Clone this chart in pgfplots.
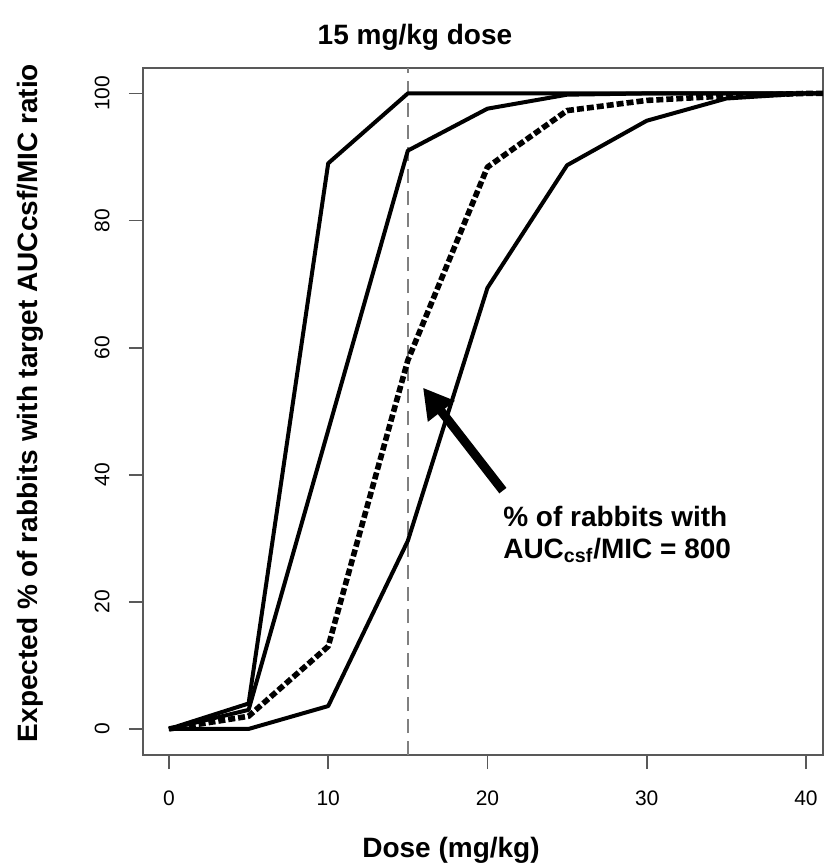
\documentclass[border=0pt]{standalone}
\usepackage{fontspec}
\setmainfont{Liberation Sans}
\usepackage{pgfplots}
\pgfplotsset{compat=1.18}
\usetikzlibrary{arrows.meta}

\begin{document}
\begin{tikzpicture}
\begin{axis}[
  at={(0,0)}, anchor=south west,
  scale only axis, width=340pt, height=343.5pt,
  xmin=-1.63, xmax=41.07, ymin=-4.1, ymax=104,
  xtick={0,10,20,30,40}, ytick={0,20,40,60,80,100},
  xtick pos=lower, ytick pos=left,
  tick align=outside, major tick length=7pt,
  axis line style={black!65, line width=0.9pt},
  tick style={black!65, line width=0.9pt},
  /pgf/number format/assume math mode=true,
  xticklabel style={font=\fontsize{10.5}{12}\selectfont, anchor=north, inner sep=0pt, yshift=-10.5pt},
  yticklabel style={font=\fontsize{10.5}{12}\selectfont, xshift=-9.5pt, rotate=90, anchor=south, inner sep=0pt},
  clip=true,
]
\addplot[gray, line width=0.9pt, dash pattern=on 7pt off 4pt] coordinates {(15,-4.1) (15,104)};
\addplot[black, line width=2pt, line join=round] coordinates {
 (0,0) (5,4) (10,89) (15,100) (20,100) (25,100) (30,100) (35,100) (40,100) (45,100)};
\addplot[black, line width=2pt, line join=round] coordinates {
 (0,0) (5,3) (10,47) (15,91) (20,97.6) (25,99.8) (30,100) (35,100) (40,100) (45,100)};
\addplot[black, line width=2.8pt, line join=round, dash pattern=on 3.5pt off 1.5pt] coordinates {
 (0,0) (5,2) (10,13) (15,58) (20,88.4) (25,97.3) (30,98.9) (35,99.6) (40,100) (45,100)};
\addplot[black, line width=2pt, line join=round] coordinates {
 (0,0) (5,0) (10,3.6) (15,29.6) (20,69.4) (25,88.7) (30,95.7) (35,99.2) (40,100) (45,100)};
\draw[line width=4.5pt, -{Triangle[length=15pt,width=16pt]}] (axis cs:20.97,37.5) -- (axis cs:15.95,53.7);
\node[anchor=north west, inner sep=0pt, align=left, font=\fontsize{14}{16}\selectfont\bfseries]
  at (axis cs:20.97,35.1) {\% of rabbits with\\AUC\textsubscript{csf}/MIC = 800};
\end{axis}
\node[anchor=base, font=\fontsize{14}{16}\selectfont\bfseries] at (136pt,355pt) {15 mg/kg dose};
\node[anchor=base, font=\fontsize{14}{16}\selectfont\bfseries] at (154pt,-51pt) {Dose (mg/kg)};
\node[anchor=base, rotate=90, font=\fontsize{14}{16}\selectfont\bfseries] at (-52.5pt,176pt) {Expected \% of rabbits with target AUCcsf/MIC ratio};
\pgfresetboundingbox
\path (-71.5pt,-54.5pt) rectangle (340.5pt,377.5pt);
\end{tikzpicture}
\end{document}
